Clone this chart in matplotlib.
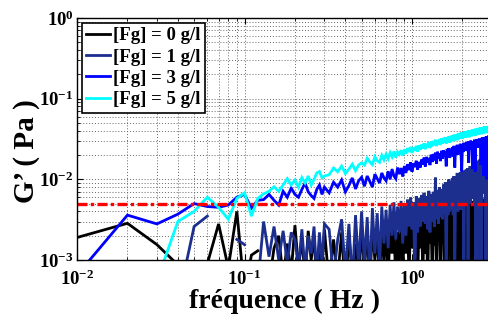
import numpy as np
import matplotlib
matplotlib.use("Agg")
import matplotlib.pyplot as plt
from matplotlib.ticker import LogLocator, NullFormatter

plt.rcParams['font.family'] = ['Liberation Serif', 'DejaVu Serif']
plt.rcParams['font.weight'] = 'bold'
plt.rcParams['mathtext.fontset'] = 'custom'
plt.rcParams['mathtext.rm'] = 'Liberation Serif:bold'
plt.rcParams['mathtext.it'] = 'Liberation Serif:bold:italic'
plt.rcParams['mathtext.bf'] = 'Liberation Serif:bold'

# frequency grid (Hz): 0.01 step up to 0.30, then 0.02 step
freq_low = np.arange(1, 31) / 100.0
freq_high = np.arange(32, 289, 2) / 100.0
freq = np.concatenate([freq_low, freq_high])

nan = np.nan
# G' values in mPa (1e-3 Pa); nan = non-positive value (gap in log plot)
g0_low = [1.9, 2.85, 1.55, 0.87, nan, 0.9, 2.8, 0.8, 4.0, 0.4,
          1.15, 1.3, nan, 0.5, 1.4, 2.0, 0.6, 1.6, 0.7, 2.7,
          0.8, 1.8, 0.6, 2.3, 1.0, 2.0, 0.5, 1.7, 0.8, 2.4]
g0_high = [0.5, 1.8, 0.6, 2.2, 0.4, 2.0, 0.7, 1.6, 0.5, 2.4,
           0.8, 2.2, 0.5, 2.6, 1.0, 2.0, 0.6, 2.3, 0.9, 2.5,
           0.6, 2.4, 1.2, 2.6, 0.5, 2.2, 1.0, 2.8, 0.7, 2.4,
           1.2, 2.8, 0.6, 3.0, 1.4, 2.6, 1.0, 3.2, 0.5, 2.9,
           1.4, 3.2, 0.6, 3.4, 1.2, 2.8, 0.5, 3.3, 1.6, 3.0,
           0.6, 3.4, 1.5, 3.6, 0.5, 3.2, 1.8, 3.8, 0.6, 3.5,
           1.6, 4.0, 0.6, 4.2, 1.4, 3.8, 0.5, 4.4, 1.8, 4.1,
           0.6, 4.6, 1.2, 4.8, 0.5, 5.0, 10.0, 2.4, 0.5, 4.4,
           1.4, 4.8, 0.6, 4.4, 1.6, 5.0, 0.5, 4.6, 1.2, 4.9,
           0.5, 4.4, 1.8, 5.2, 0.4, 4.8, 1.6, 5.4, 0.5, 4.6,
           1.4, 5.0, 0.4, 5.6, 1.6, 4.6, 0.5, 5.2, 1.2, 4.8,
           0.5, 5.2, 1.8, 4.6, 0.6, 5.8, 1.4, 4.4, 0.5, 5.0,
           1.6, 4.8, 0.5, 5.6, 1.2, 4.4, 0.6, 5.2, 0.5]

g1_low = [nan, nan, nan, 0.3, 2.6, 3.5, nan, nan, 1.8, 1.55,
          nan, 0.5, 3.0, 1.1, 2.6, 1.0, 2.3, 0.9, 2.2, 1.8,
          0.8, 2.4, 0.7, 2.0, 1.2, 2.6, 0.6, 2.2, 0.9, 2.8]
g1_high = [2.4, 0.6, 1.8, 3.2, 0.7, 2.8, 0.5, 3.6, 0.8, 4.0,
           0.9, 3.4, 0.6, 4.4, 1.2, 3.8, 0.8, 4.6, 1.6, 4.2,
           1.4, 4.8, 2.0, 5.2, 1.8, 4.6, 2.2, 5.4, 1.6, 5.0,
           2.0, 5.6, 2.6, 6.0, 2.4, 5.2, 0.6, 6.2, 2.2, 5.8,
           2.6, 6.4, 3.0, 6.8, 2.8, 6.2, 2.4, 7.2, 2.2, 6.6,
           3.0, 7.0, 2.6, 10.5, 3.2, 7.4, 2.8, 8.0, 3.4, 7.6,
           3.2, 8.6, 3.8, 9.2, 0.6, 8.8, 3.6, 10.0, 4.0, 9.4,
           4.2, 10.4, 3.6, 11.0, 0.6, 10.2, 4.6, 12.0, 4.0, 11.4,
           4.8, 12.2, 4.2, 11.6, 5.2, 12.8, 0.7, 12.4, 5.0, 13.2,
           5.4, 13.8, 0.5, 13.0, 5.6, 14.6, 5.0, 14.0, 6.0, 15.2,
           5.8, 15.8, 5.2, 15.0, 0.6, 16.4, 6.2, 17.0, 0.5, 16.2,
           6.4, 17.6, 6.0, 16.8, 0.7, 18.4, 6.6, 21.0, 6.8, 19.0,
           7.0, 22.0, 0.6, 20.4, 7.2, 24.0, 0.5, 23.0, 7.4]

g3_low = [0.65, 3.6, 2.8, 3.7, 5.0, 4.6, 4.5, 4.8, 6.0, 6.5,
          4.4, 5.5, 5.6, 6.5, 5.5, 4.8, 7.1, 6.0, 7.8, 6.5,
          6.0, 7.5, 9.0, 7.0, 6.3, 5.8, 7.5, 8.5, 6.5, 8.0]
g3_high = [6.8, 9.2, 8.0, 9.8, 7.0, 8.4, 10.4, 7.6, 9.6, 10.6,
           8.2, 11.0, 9.4, 8.0, 11.6, 10.2, 9.0, 12.0, 10.4, 9.6,
           12.6, 10.0, 13.4, 11.0, 10.2, 14.0, 11.6, 13.8, 10.8, 14.6,
           12.0, 15.4, 13.0, 16.2, 12.4, 15.8, 14.2, 17.0, 13.2, 16.4,
           14.0, 17.6, 15.2, 18.6, 14.4, 19.0, 16.2, 18.4, 15.0, 20.2,
           16.4, 20.6, 17.2, 21.4, 15.6, 22.0, 18.0, 21.0, 16.8, 22.6,
           18.0, 23.0, 19.2, 22.2, 14.5, 23.8, 19.6, 24.4, 18.4, 23.2,
           20.0, 25.0, 19.0, 26.0, 14.0, 25.4, 21.0, 26.8, 20.2, 25.8,
           21.4, 27.6, 22.0, 12.5, 27.0, 21.8, 28.4, 22.6, 27.8, 23.0,
           28.8, 22.4, 29.4, 16.0, 28.6, 23.6, 30.2, 24.0, 29.0, 13.5,
           29.8, 24.2, 31.0, 12.5, 30.4, 24.8, 31.6, 25.0, 30.6, 26.0,
           32.0, 24.6, 31.4, 15.0, 32.6, 25.4, 33.0, 26.2, 11.0, 32.4,
           26.0, 33.6, 25.2, 34.2, 10.0, 33.0, 26.8, 34.8, 27.0]

g5_low = [nan, nan, 0.55, 3.0, 4.0, 6.0, 4.5, 3.2, 5.8, 6.8,
          3.5, 5.8, 6.6, 7.1, 8.1, 7.1, 8.5, 10.2, 8.5, 9.8,
          8.0, 10.5, 9.0, 11.0, 8.5, 10.0, 12.0, 12.5, 10.5, 11.0]
g5_high = [11.4, 13.8, 12.4, 14.6, 11.8, 13.4, 15.4, 12.8, 15.0, 16.0,
           15.0, 18.2, 16.4, 15.2, 19.0, 17.0, 16.2, 19.8, 17.4, 20.4,
           18.0, 21.4, 19.0, 22.2, 18.6, 21.8, 20.4, 23.0, 19.6, 23.4,
           20.8, 24.4, 21.8, 25.2, 21.2, 24.8, 22.6, 26.0, 22.0, 26.4,
           23.2, 27.0, 24.0, 28.0, 23.6, 27.6, 25.0, 29.0, 24.4, 29.4,
           25.6, 30.0, 26.4, 31.0, 25.8, 30.4, 27.0, 31.6, 26.6, 32.0,
           27.6, 32.6, 28.4, 33.4, 27.8, 33.0, 29.0, 34.2, 28.6, 34.6,
           29.6, 35.2, 30.4, 35.8, 29.8, 35.4, 31.0, 36.6, 30.6, 37.0,
           31.8, 37.6, 32.4, 38.2, 31.6, 37.8, 33.0, 39.0, 32.6, 39.4,
           33.4, 39.8, 34.0, 40.4, 33.2, 40.0, 34.6, 41.0, 34.2, 41.4,
           35.0, 41.8, 35.6, 42.4, 34.8, 42.0, 36.0, 43.0, 35.6, 43.4,
           36.4, 43.6, 37.0, 44.2, 36.2, 43.8, 37.4, 44.6, 37.0, 45.0,
           37.6, 45.2, 38.0, 45.6, 37.4, 45.4, 38.4, 46.0, 38.2]

labels = ['[Fg] = 0 g/l', '[Fg] = 1 g/l', '[Fg] = 3 g/l', '[Fg] = 5 g/l']
colors = ['#000000', '#1c2f8f', '#0000ff', '#00ffff']
threshold_mpa = 5.0

series = [g0_low + g0_high, g1_low + g1_high, g3_low + g3_high, g5_low + g5_high]

fig = plt.figure(figsize=(4.89, 3.20), dpi=100)
ax = fig.add_axes([0.1575, 0.1875, 0.85, 0.7563])

for vals, lab, col in zip(series, labels, colors):
    ax.plot(freq, np.array(vals) * 1e-3, color=col, lw=2.0, label=lab,
            solid_joinstyle='miter')

ax.axhline(threshold_mpa * 1e-3, color='#ff0000', lw=2.4,
           dashes=(3.0, 1.0, 1.0, 1.0), dash_capstyle='butt')

ax.set_xscale('log')
ax.set_yscale('log')
ax.set_xlim(0.01, 3.03)
ax.set_ylim(1e-3, 1e0)

ax.xaxis.set_major_locator(LogLocator(base=10, numticks=10))
ax.yaxis.set_major_locator(LogLocator(base=10, numticks=10))
ax.xaxis.set_minor_locator(LogLocator(base=10, subs=np.arange(2, 10), numticks=20))
ax.yaxis.set_minor_locator(LogLocator(base=10, subs=np.arange(2, 10), numticks=20))
ax.xaxis.set_minor_formatter(NullFormatter())
ax.yaxis.set_minor_formatter(NullFormatter())

ax.grid(True, which='both', color='#666666', linestyle=(0, (1, 2)), lw=0.7)
ax.set_axisbelow(True)
ax.tick_params(which='both', direction='in', top=True, right=True)
ax.tick_params(which='major', length=4, labelsize=13.5, width=0.8)
ax.tick_params(axis='x', which='major', pad=7)
ax.tick_params(axis='y', which='major', pad=2.5)
ax.tick_params(which='minor', length=2, width=0.6)
for sp in ax.spines.values():
    sp.set_linewidth(1.0)

ax.set_xlabel('fréquence ( Hz )', fontsize=20, fontweight='bold', labelpad=0)
ax.set_ylabel('G’ ( Pa )', fontsize=21, fontweight='bold')
ax.yaxis.set_label_coords(-0.088, 0.45)

leg = ax.legend(loc='upper left', fontsize=13.5, frameon=True, fancybox=False,
                edgecolor='black', framealpha=1, handlelength=1.25,
                handletextpad=0.15, borderpad=0.25, labelspacing=0.22,
                borderaxespad=0.25)
leg.get_frame().set_linewidth(1.2)
for t in leg.get_texts():
    t.set_fontweight('bold')

fig.savefig('out.png', dpi=100)
